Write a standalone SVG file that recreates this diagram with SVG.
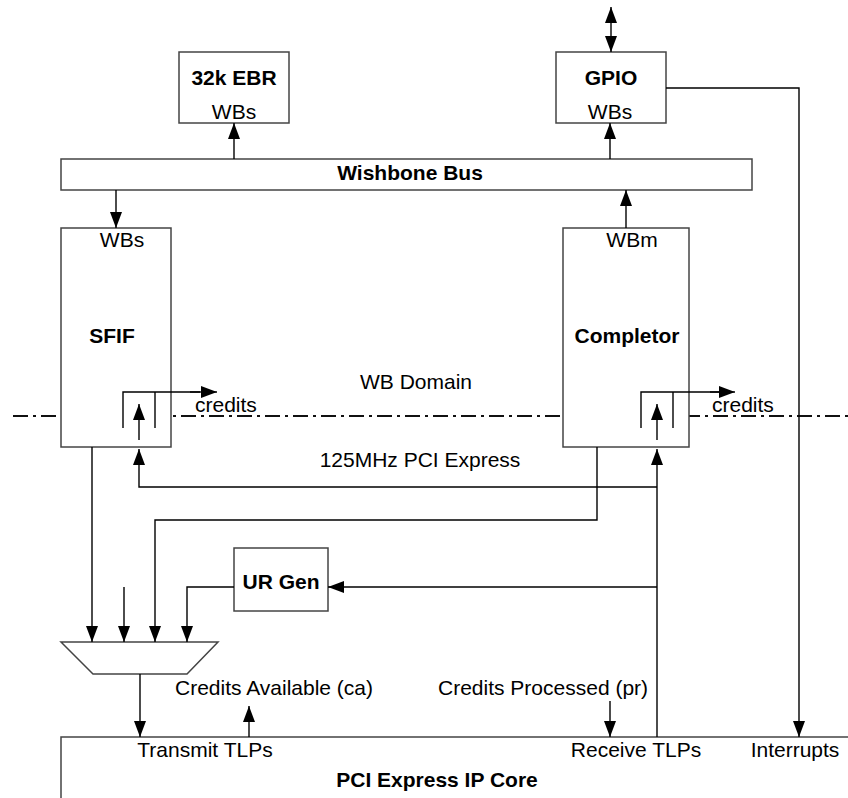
<svg xmlns="http://www.w3.org/2000/svg" width="848" height="798" viewBox="0 0 848 798">
<style>
.box{fill:#fff;stroke:#444;stroke-width:1.5}
.ln{fill:none;stroke:#000;stroke-width:1.4}
.ar{fill:none;stroke:#000;stroke-width:1.4;marker-end:url(#ah)}
.t{font-family:"Liberation Sans",Arial,Helvetica,sans-serif;font-size:21px;fill:#000}
.b{font-weight:bold}
.m{text-anchor:middle}
.dd{fill:none;stroke:#111;stroke-width:2.2;stroke-dasharray:15,5,3,5}
</style>
<defs>
<marker id="ah" markerUnits="userSpaceOnUse" markerWidth="16" markerHeight="12" refX="16" refY="6" orient="auto-start-reverse">
<path d="M0,0 L16,6 L0,12 z" fill="#000"/>
</marker>
</defs>
<rect width="848" height="798" fill="#fff"/>

<line class="dd" x1="13" y1="416" x2="848" y2="416"/>

<g id="ebr">
<rect class="box" x="179" y="52" width="110" height="71"/>
<text class="t b m" x="234" y="85">32k EBR</text>
<text class="t m" x="234" y="119">WBs</text>
</g>

<g id="gpio">
<rect class="box" x="556" y="52" width="110" height="71"/>
<text class="t b m" x="611" y="85">GPIO</text>
<text class="t m" x="610" y="119">WBs</text>
</g>

<g id="wishbone">
<rect class="box" x="61" y="159" width="691" height="31"/>
<text class="t b m" x="410" y="180">Wishbone Bus</text>
</g>

<g id="sfif">
<rect class="box" x="61" y="228" width="110" height="219"/>
<text class="t m" x="122" y="247">WBs</text>
<text class="t b m" x="112" y="343">SFIF</text>
<path class="ln" d="M123,428 V392 H200"/>
<path class="ar" d="M190,392 H217"/>
<line class="ln" x1="155" y1="392" x2="155" y2="428"/>
<line class="ar" x1="139" y1="440" x2="139" y2="404"/>
<text class="t" x="195" y="412">credits</text>
</g>

<g id="completor">
<rect class="box" x="563" y="228" width="126" height="219"/>
<text class="t m" x="632" y="247">WBm</text>
<text class="t b m" x="627" y="343">Completor</text>
<path class="ln" d="M641,428 V392 H720"/>
<path class="ar" d="M710,392 H735"/>
<line class="ln" x1="673" y1="392" x2="673" y2="428"/>
<line class="ar" x1="657" y1="440" x2="657" y2="404"/>
<text class="t" x="712" y="412">credits</text>
</g>

<g id="urgen">
<rect class="box" x="234" y="548" width="94" height="63"/>
<text class="t b m" x="281" y="589">UR Gen</text>
</g>

<g id="mux">
<path class="box" d="M61,642 H218 L187,674 H93 Z"/>
</g>

<g id="pcie">
<rect class="box" x="61" y="737" width="800" height="80"/>
<text class="t m" x="205" y="757">Transmit TLPs</text>
<text class="t m" x="636" y="757">Receive TLPs</text>
<text class="t m" x="795" y="757">Interrupts</text>
<text class="t b m" x="437" y="787">PCI Express IP Core</text>
</g>

<g id="labels">
<text class="t m" x="416" y="389">WB Domain</text>
<text class="t m" x="420" y="467">125MHz PCI Express</text>
<text class="t" x="175" y="695">Credits Available (ca)</text>
<text class="t" x="438" y="695">Credits Processed (pr)</text>
</g>

<g id="connectors">
<line class="ar" x1="611" y1="7" x2="611" y2="52" style="marker-start:url(#ah)"/>
<line class="ar" x1="234" y1="159" x2="234" y2="123"/>
<line class="ar" x1="610" y1="159" x2="610" y2="123"/>
<line class="ar" x1="116" y1="190" x2="116" y2="228"/>
<line class="ar" x1="626" y1="228" x2="626" y2="190"/>
<path class="ar" d="M666,88 H799 V737"/>
<path class="ar" d="M657,487 H139 V449"/>
<path class="ar" d="M657,737 V449"/>
<path class="ar" d="M597,447 V520 H155 V642"/>
<path class="ar" d="M657,587 H328"/>
<path class="ar" d="M234,587 H187 V642"/>
<line class="ar" x1="92" y1="447" x2="92" y2="642"/>
<line class="ar" x1="124" y1="587" x2="124" y2="642"/>
<line class="ar" x1="140" y1="674" x2="140" y2="737"/>
<line class="ar" x1="249" y1="737" x2="249" y2="706"/>
<line class="ar" x1="610" y1="701" x2="610" y2="737"/>
</g>
</svg>
